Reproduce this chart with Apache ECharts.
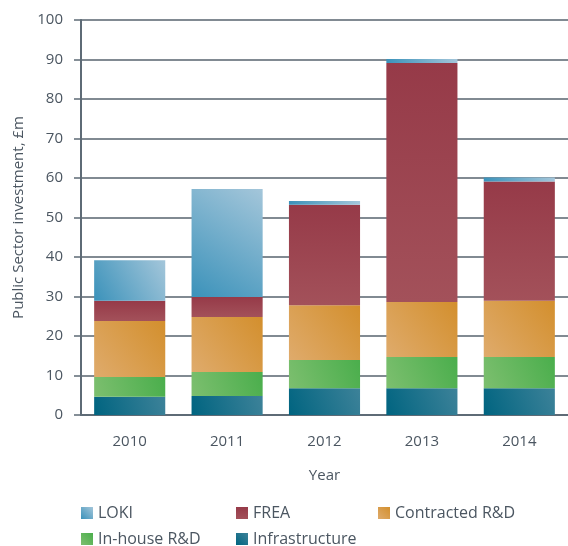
<!DOCTYPE html>
<html>
<head>
<meta charset="utf-8">
<script src="https://cdn.jsdelivr.net/npm/echarts@6/dist/echarts.min.js"></script>
<style>
html, body { margin: 0; padding: 0; background: #fff; }
#chart { width: 568px; height: 546px; }
</style>
</head>
<body>
<div id="chart"></div>
<script>
// data, £m
const years = ['2010', '2011', '2012', '2013', '2014'];
const infrastructure = [4.6, 4.8, 6.8, 6.8, 6.8];
const inHouse = [5.0, 6.1, 7.1, 7.9, 7.9];
const contracted = [14.2, 13.9, 13.9, 13.9, 14.2];
const frea = [5.1, 5.1, 25.4, 60.5, 30.2];
const loki = [10.3, 27.3, 1.0, 1.0, 1.0];
const yTicks = [0, 10, 20, 30, 40, 50, 60, 70, 80, 90, 100];

const textCol = '#4b5661';
const font = 'Open Sans';

function grad(c0, c1, vertical) {
  return new echarts.graphic.LinearGradient(0, vertical ? 0 : 1, vertical ? 0 : 1, vertical ? 1 : 0, [
    { offset: 0, color: c0 }, { offset: 1, color: c1 }
  ]);
}

const styles = {
  'Infrastructure': grad('#006480', '#3d8299'),
  'In-house R&D': grad('#7dbf6f', '#4aae4c'),
  'Contracted R&D': grad('#dfab6c', '#d38f2d'),
  'FREA': grad('#963a48', '#a3515a', true),
  'LOKI': grad('#3b92ba', '#a4c6da')
};

const chart = echarts.init(document.getElementById('chart'), null, { renderer: 'canvas' });

function bar(name, data) {
  return {
    name: name, type: 'bar', stack: 'total', data: data, barWidth: '73%',
    itemStyle: { color: styles[name] }
  };
}

function legendAt(name, left, top) {
  return {
    data: [name], left: left, top: top, itemWidth: 12, itemHeight: 12, icon: 'rect',
    itemGap: 8, textStyle: { color: textCol, fontFamily: font, fontSize: 16 }
  };
}

chart.setOption({
  animation: false,
  grid: { left: 81, right: 0, top: 20, bottom: 131 },
  legend: [
    legendAt('LOKI', 76, 500),
    legendAt('FREA', 231, 500),
    legendAt('Contracted R&D', 373, 500),
    legendAt('In-house R&D', 76, 526),
    legendAt('Infrastructure', 231, 526)
  ],
  xAxis: {
    type: 'category', data: years, name: 'Year', nameLocation: 'middle', nameGap: 53,
    nameTextStyle: { color: textCol, fontFamily: font, fontSize: 15 },
    axisLine: { lineStyle: { color: '#5e6b76', width: 2 } },
    axisTick: { length: 6, lineStyle: { color: '#5e6b76', width: 1.5 } },
    axisLabel: { color: textCol, fontFamily: font, fontSize: 15, margin: 19 }
  },
  yAxis: {
    type: 'value', min: yTicks[0], max: yTicks[yTicks.length - 1], interval: 10,
    name: 'Public Sector investment, £m', nameLocation: 'middle', nameGap: 46,
    nameTextStyle: { color: textCol, fontFamily: font, fontSize: 15 },
    axisLine: { show: true, lineStyle: { color: '#5e6b76', width: 2 } },
    axisTick: { show: true, length: 7, lineStyle: { color: '#5e6b76', width: 1.5 } },
    axisLabel: { color: textCol, fontFamily: font, fontSize: 15, margin: 18 },
    splitLine: { lineStyle: { color: '#818a92', width: 2 } }
  },
  series: [
    bar('Infrastructure', infrastructure),
    bar('In-house R&D', inHouse),
    bar('Contracted R&D', contracted),
    bar('FREA', frea),
    bar('LOKI', loki)
  ]
});
</script>
</body>
</html>
